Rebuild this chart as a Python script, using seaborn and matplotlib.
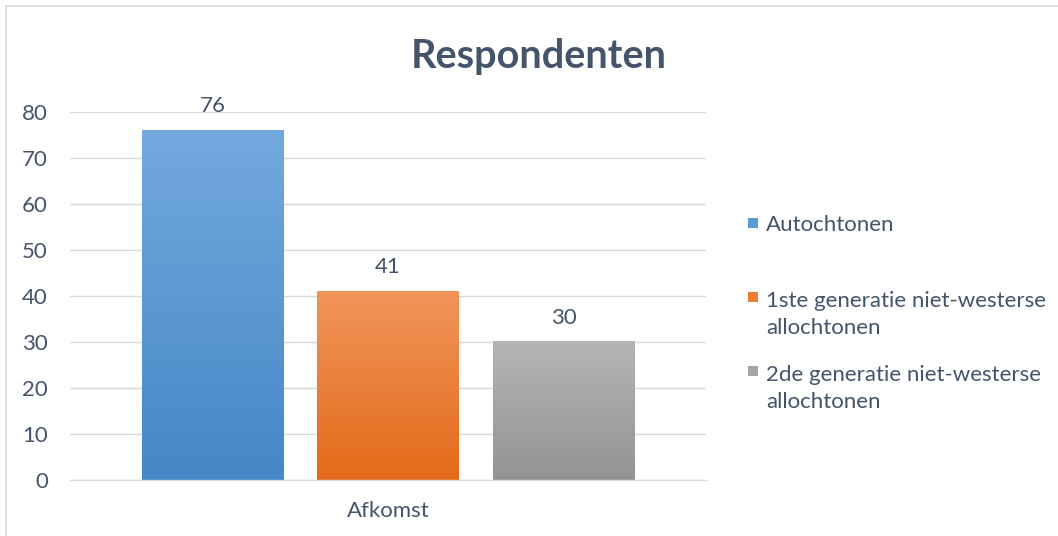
import numpy as np
import pandas as pd
import matplotlib.pyplot as plt
import seaborn as sns
from matplotlib.colors import to_rgb
from matplotlib.patches import Rectangle

## Data ##

category = ["Afkomst"]
groups = ["Autochtonen",
          "1ste generatie niet-westerse allochtonen",
          "2de generatie niet-westerse allochtonen"]
legend_labels = ["Autochtonen",
                 "1ste generatie niet-westerse\nallochtonen",
                 "2de generatie niet-westerse\nallochtonen"]
values = [76, 41, 30]

colors = ["#5B9BD5", "#ED7D31", "#A5A5A5"]
top_colors = ["#73A9DE", "#F1955B", "#B5B5B5"]
bottom_colors = ["#4587C7", "#E36A19", "#939393"]

text_col = "#44546A"
grid_col = "#D9D9D9"

df = pd.DataFrame({"afkomst": category * len(groups), "groep": groups, "aantal": values})

sns.set_style("white")
plt.rcParams["font.family"] = ["Lato", "DejaVu Sans"]

fig = plt.figure(figsize=(10.58, 5.36), dpi=100)
ax = fig.add_axes([0.0662, 0.1045, 0.601, 0.6866])

sns.barplot(data=df, x="afkomst", y="aantal", hue="groep", hue_order=groups,
            palette=colors, saturation=1, width=0.828, legend=False, ax=ax)

## Bars: narrower with gradient ##

bars = sorted(ax.patches, key=lambda p: p.get_x())
for p, top, bot, val in zip(bars, top_colors, bottom_colors, values):
    cx = p.get_x() + p.get_width() / 2
    p.set_width(0.223)
    p.set_x(cx - 0.223 / 2)
    p.set_edgecolor("none")
    x0, w, h = p.get_x(), p.get_width(), p.get_height()
    grad = np.linspace(to_rgb(top), to_rgb(bot), 256).reshape(256, 1, 3)
    ax.imshow(grad, extent=[x0, x0 + w, 0, h], aspect="auto", origin="upper",
              zorder=p.get_zorder() + 0.1)
    ax.annotate(str(val), (cx, h), xytext=(0, 10), textcoords="offset points",
                ha="center", va="bottom", fontsize=16, color=text_col)

## Axes ##

ax.set_xlim(-0.5, 0.5)
ax.set_ylim(0, 80)
ax.set_yticks(range(0, 81, 10))
ax.set_xticks([0])
ax.set_xticklabels(category)
ax.set_xticks([-0.5, 0.5], minor=True)
ax.set_xlabel("")
ax.set_ylabel("")
ax.yaxis.grid(True, color=grid_col, lw=1)
ax.set_axisbelow(True)
for s in ["top", "right", "left"]:
    ax.spines[s].set_visible(False)
ax.spines["bottom"].set_color(grid_col)
ax.spines["bottom"].set_linewidth(1)
ax.tick_params(axis="y", length=0, pad=16, labelsize=16, labelcolor=text_col)
ax.tick_params(axis="x", which="major", length=0, pad=15, labelsize=16, labelcolor=text_col)
ax.tick_params(axis="x", which="minor", length=5, width=1, color=grid_col, direction="out")

## Title ##

fig.text(539 / 1058, 1 - 68 / 536, "Respondenten", ha="center", va="baseline",
         fontsize=28.5, weight="bold", color=text_col)

## Legend ##

W, H = 1058, 536
baselines = [231, 305, 379]
line_gap = 29
for lab, col, b in zip(legend_labels, colors, baselines):
    n = lab.count("\n")
    fig.text(766 / W, 1 - (b + n * line_gap) / H, lab, ha="left", va="baseline",
             fontsize=16, color=text_col, linespacing=1.45)
    fig.patches.append(Rectangle((748 / W, 1 - (b - 3) / H), 10 / W, 10 / H,
                                 transform=fig.transFigure, facecolor=col,
                                 edgecolor="none"))

## Chart border ##

fig.patches.append(Rectangle((6 / W, -0.1), 1.2, 1.1 - 6 / H, transform=fig.transFigure,
                             facecolor="none", edgecolor=grid_col, lw=1.2))

fig.savefig("out.png", dpi=100)
